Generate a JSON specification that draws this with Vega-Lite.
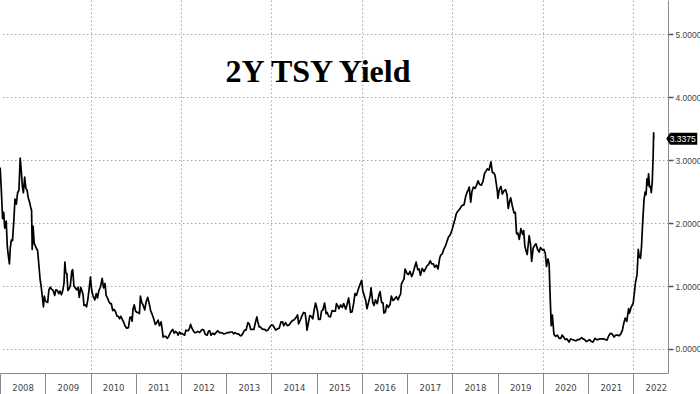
{
"$schema": "https://vega.github.io/schema/vega-lite/v6.json",
"width": 668, "height": 373,
"autosize": "none",
"padding": {"left": 0, "top": 0, "right": 32, "bottom": 21},
"background": "white",
"config": {"view": {"stroke": null}},
"datasets": {
"yld": [
{"d":"2008-01-02","v":2.88},{"d":"2008-01-11","v":2.55},{"d":"2008-01-22","v":2.07},{"d":"2008-01-31","v":2.17},{"d":"2008-02-08","v":1.92},{"d":"2008-02-20","v":2.03},{"d":"2008-02-29","v":1.63},{"d":"2008-03-07","v":1.5},{"d":"2008-03-17","v":1.35},{"d":"2008-03-24","v":1.6},{"d":"2008-04-01","v":1.73},{"d":"2008-04-11","v":1.72},{"d":"2008-04-22","v":2.05},{"d":"2008-05-01","v":2.38},{"d":"2008-05-12","v":2.3},{"d":"2008-05-22","v":2.48},{"d":"2008-06-02","v":2.52},{"d":"2008-06-12","v":3.03},{"d":"2008-06-20","v":2.85},{"d":"2008-06-30","v":2.57},{"d":"2008-07-08","v":2.48},{"d":"2008-07-18","v":2.73},{"d":"2008-07-28","v":2.55},{"d":"2008-08-07","v":2.52},{"d":"2008-08-15","v":2.41},{"d":"2008-08-27","v":2.33},{"d":"2008-09-05","v":2.25},{"d":"2008-09-12","v":2.2},{"d":"2008-09-17","v":1.58},{"d":"2008-09-24","v":1.95},{"d":"2008-10-03","v":1.67},{"d":"2008-10-10","v":1.65},{"d":"2008-10-20","v":1.6},{"d":"2008-10-31","v":1.56},{"d":"2008-11-10","v":1.33},{"d":"2008-11-20","v":1.1},{"d":"2008-11-28","v":1.0},{"d":"2008-12-05","v":0.88},{"d":"2008-12-17","v":0.67},{"d":"2008-12-24","v":0.84},{"d":"2008-12-31","v":0.77},
{"d":"2009-01-09","v":0.75},{"d":"2009-01-20","v":0.74},{"d":"2009-01-30","v":0.94},{"d":"2009-02-10","v":0.98},{"d":"2009-02-20","v":0.95},{"d":"2009-03-05","v":0.93},{"d":"2009-03-18","v":0.85},{"d":"2009-03-27","v":0.94},{"d":"2009-04-08","v":0.93},{"d":"2009-04-20","v":0.88},{"d":"2009-04-30","v":0.92},{"d":"2009-05-11","v":0.86},{"d":"2009-05-21","v":0.92},{"d":"2009-06-01","v":1.05},{"d":"2009-06-08","v":1.38},{"d":"2009-06-15","v":1.21},{"d":"2009-06-24","v":1.2},{"d":"2009-07-02","v":0.93},{"d":"2009-07-13","v":0.96},{"d":"2009-07-22","v":1.01},{"d":"2009-08-03","v":1.24},{"d":"2009-08-10","v":1.26},{"d":"2009-08-20","v":1.0},{"d":"2009-08-31","v":0.97},{"d":"2009-09-11","v":0.94},{"d":"2009-09-23","v":0.98},{"d":"2009-10-02","v":0.82},{"d":"2009-10-14","v":0.98},{"d":"2009-10-23","v":0.93},{"d":"2009-11-02","v":0.86},{"d":"2009-11-09","v":0.69},{"d":"2009-11-20","v":0.7},{"d":"2009-11-30","v":0.67},{"d":"2009-12-10","v":0.78},{"d":"2009-12-20","v":0.94},{"d":"2009-12-31","v":1.14},
{"d":"2010-01-11","v":0.92},{"d":"2010-01-22","v":0.84},{"d":"2010-02-05","v":0.78},{"d":"2010-02-16","v":0.88},{"d":"2010-02-26","v":0.81},{"d":"2010-03-10","v":0.93},{"d":"2010-03-22","v":0.98},{"d":"2010-04-05","v":1.12},{"d":"2010-04-16","v":0.97},{"d":"2010-04-28","v":1.04},{"d":"2010-05-07","v":0.85},{"d":"2010-05-20","v":0.8},{"d":"2010-05-28","v":0.76},{"d":"2010-06-08","v":0.72},{"d":"2010-06-18","v":0.72},{"d":"2010-06-29","v":0.61},{"d":"2010-07-09","v":0.63},{"d":"2010-07-22","v":0.59},{"d":"2010-08-03","v":0.52},{"d":"2010-08-13","v":0.52},{"d":"2010-08-25","v":0.48},{"d":"2010-09-03","v":0.52},{"d":"2010-09-15","v":0.47},{"d":"2010-09-27","v":0.42},{"d":"2010-10-06","v":0.37},{"d":"2010-10-20","v":0.33},{"d":"2010-11-03","v":0.34},{"d":"2010-11-15","v":0.5},{"d":"2010-11-24","v":0.51},{"d":"2010-12-03","v":0.44},{"d":"2010-12-10","v":0.63},{"d":"2010-12-20","v":0.7},{"d":"2010-12-31","v":0.6},
{"d":"2011-01-10","v":0.58},{"d":"2011-01-20","v":0.58},{"d":"2011-01-31","v":0.56},{"d":"2011-02-08","v":0.84},{"d":"2011-02-18","v":0.74},{"d":"2011-03-01","v":0.7},{"d":"2011-03-15","v":0.62},{"d":"2011-03-25","v":0.74},{"d":"2011-04-08","v":0.82},{"d":"2011-04-20","v":0.72},{"d":"2011-05-02","v":0.6},{"d":"2011-05-12","v":0.56},{"d":"2011-05-26","v":0.48},{"d":"2011-06-08","v":0.39},{"d":"2011-06-20","v":0.42},{"d":"2011-06-30","v":0.46},{"d":"2011-07-12","v":0.37},{"d":"2011-07-25","v":0.43},{"d":"2011-08-04","v":0.29},{"d":"2011-08-10","v":0.19},{"d":"2011-08-19","v":0.2},{"d":"2011-08-31","v":0.2},{"d":"2011-09-12","v":0.17},{"d":"2011-09-22","v":0.19},{"d":"2011-10-03","v":0.24},{"d":"2011-10-14","v":0.28},{"d":"2011-10-27","v":0.31},{"d":"2011-11-08","v":0.25},{"d":"2011-11-18","v":0.28},{"d":"2011-11-30","v":0.26},{"d":"2011-12-09","v":0.22},{"d":"2011-12-20","v":0.27},{"d":"2011-12-30","v":0.24},
{"d":"2012-01-10","v":0.25},{"d":"2012-01-20","v":0.23},{"d":"2012-01-31","v":0.22},{"d":"2012-02-10","v":0.3},{"d":"2012-02-21","v":0.29},{"d":"2012-03-01","v":0.29},{"d":"2012-03-12","v":0.34},{"d":"2012-03-19","v":0.39},{"d":"2012-03-30","v":0.33},{"d":"2012-04-10","v":0.29},{"d":"2012-04-20","v":0.26},{"d":"2012-05-01","v":0.26},{"d":"2012-05-15","v":0.28},{"d":"2012-05-31","v":0.26},{"d":"2012-06-11","v":0.29},{"d":"2012-06-22","v":0.31},{"d":"2012-07-03","v":0.3},{"d":"2012-07-16","v":0.23},{"d":"2012-07-31","v":0.22},{"d":"2012-08-10","v":0.28},{"d":"2012-08-20","v":0.29},{"d":"2012-08-31","v":0.22},{"d":"2012-09-14","v":0.25},{"d":"2012-09-28","v":0.23},{"d":"2012-10-10","v":0.26},{"d":"2012-10-24","v":0.29},{"d":"2012-11-07","v":0.26},{"d":"2012-11-20","v":0.26},{"d":"2012-12-03","v":0.25},{"d":"2012-12-14","v":0.24},{"d":"2012-12-31","v":0.25},
{"d":"2013-01-10","v":0.26},{"d":"2013-01-24","v":0.26},{"d":"2013-02-05","v":0.27},{"d":"2013-02-19","v":0.27},{"d":"2013-03-01","v":0.24},{"d":"2013-03-13","v":0.26},{"d":"2013-03-27","v":0.24},{"d":"2013-04-10","v":0.24},{"d":"2013-04-24","v":0.21},{"d":"2013-05-03","v":0.21},{"d":"2013-05-15","v":0.25},{"d":"2013-05-29","v":0.3},{"d":"2013-06-10","v":0.3},{"d":"2013-06-25","v":0.42},{"d":"2013-07-05","v":0.4},{"d":"2013-07-18","v":0.31},{"d":"2013-07-31","v":0.31},{"d":"2013-08-12","v":0.31},{"d":"2013-08-22","v":0.4},{"d":"2013-09-05","v":0.51},{"d":"2013-09-13","v":0.43},{"d":"2013-09-24","v":0.35},{"d":"2013-10-04","v":0.35},{"d":"2013-10-17","v":0.32},{"d":"2013-10-31","v":0.31},{"d":"2013-11-08","v":0.31},{"d":"2013-11-20","v":0.29},{"d":"2013-12-03","v":0.3},{"d":"2013-12-16","v":0.34},{"d":"2013-12-31","v":0.38},
{"d":"2014-01-10","v":0.38},{"d":"2014-01-24","v":0.34},{"d":"2014-02-04","v":0.3},{"d":"2014-02-18","v":0.32},{"d":"2014-03-04","v":0.33},{"d":"2014-03-19","v":0.43},{"d":"2014-03-31","v":0.43},{"d":"2014-04-11","v":0.37},{"d":"2014-04-25","v":0.42},{"d":"2014-05-09","v":0.37},{"d":"2014-05-23","v":0.38},{"d":"2014-06-06","v":0.42},{"d":"2014-06-18","v":0.45},{"d":"2014-07-01","v":0.46},{"d":"2014-07-15","v":0.49},{"d":"2014-07-31","v":0.54},{"d":"2014-08-08","v":0.4},{"d":"2014-08-22","v":0.46},{"d":"2014-09-05","v":0.53},{"d":"2014-09-18","v":0.58},{"d":"2014-09-30","v":0.57},{"d":"2014-10-08","v":0.45},{"d":"2014-10-15","v":0.3},{"d":"2014-10-24","v":0.39},{"d":"2014-11-06","v":0.53},{"d":"2014-11-18","v":0.52},{"d":"2014-12-01","v":0.48},{"d":"2014-12-10","v":0.6},{"d":"2014-12-23","v":0.73},{"d":"2014-12-31","v":0.67},
{"d":"2015-01-09","v":0.59},{"d":"2015-01-16","v":0.47},{"d":"2015-01-30","v":0.47},{"d":"2015-02-09","v":0.6},{"d":"2015-02-20","v":0.62},{"d":"2015-03-06","v":0.73},{"d":"2015-03-18","v":0.56},{"d":"2015-03-27","v":0.58},{"d":"2015-04-08","v":0.52},{"d":"2015-04-22","v":0.51},{"d":"2015-05-06","v":0.61},{"d":"2015-05-20","v":0.6},{"d":"2015-06-01","v":0.6},{"d":"2015-06-10","v":0.72},{"d":"2015-06-22","v":0.68},{"d":"2015-06-30","v":0.64},{"d":"2015-07-14","v":0.7},{"d":"2015-07-27","v":0.66},{"d":"2015-08-07","v":0.72},{"d":"2015-08-24","v":0.63},{"d":"2015-09-04","v":0.71},{"d":"2015-09-16","v":0.81},{"d":"2015-09-24","v":0.7},{"d":"2015-10-02","v":0.58},{"d":"2015-10-14","v":0.59},{"d":"2015-10-28","v":0.74},{"d":"2015-11-06","v":0.88},{"d":"2015-11-18","v":0.85},{"d":"2015-12-02","v":0.94},{"d":"2015-12-16","v":1.02},{"d":"2015-12-30","v":1.09},
{"d":"2016-01-08","v":0.93},{"d":"2016-01-20","v":0.85},{"d":"2016-02-01","v":0.77},{"d":"2016-02-11","v":0.64},{"d":"2016-02-24","v":0.74},{"d":"2016-03-08","v":0.85},{"d":"2016-03-15","v":0.97},{"d":"2016-03-29","v":0.74},{"d":"2016-04-08","v":0.69},{"d":"2016-04-20","v":0.78},{"d":"2016-05-04","v":0.72},{"d":"2016-05-18","v":0.86},{"d":"2016-05-27","v":0.91},{"d":"2016-06-08","v":0.74},{"d":"2016-06-20","v":0.73},{"d":"2016-06-27","v":0.57},{"d":"2016-07-08","v":0.58},{"d":"2016-07-20","v":0.7},{"d":"2016-08-02","v":0.66},{"d":"2016-08-16","v":0.71},{"d":"2016-08-26","v":0.84},{"d":"2016-09-08","v":0.77},{"d":"2016-09-20","v":0.79},{"d":"2016-10-05","v":0.83},{"d":"2016-10-19","v":0.78},{"d":"2016-10-31","v":0.84},{"d":"2016-11-09","v":0.87},{"d":"2016-11-15","v":1.03},{"d":"2016-11-28","v":1.08},{"d":"2016-12-06","v":1.11},{"d":"2016-12-15","v":1.27},{"d":"2016-12-30","v":1.2},
{"d":"2017-01-10","v":1.18},{"d":"2017-01-24","v":1.23},{"d":"2017-02-06","v":1.15},{"d":"2017-02-17","v":1.2},{"d":"2017-03-01","v":1.29},{"d":"2017-03-14","v":1.38},{"d":"2017-03-27","v":1.26},{"d":"2017-04-07","v":1.27},{"d":"2017-04-18","v":1.17},{"d":"2017-05-02","v":1.28},{"d":"2017-05-17","v":1.23},{"d":"2017-05-31","v":1.28},{"d":"2017-06-09","v":1.32},{"d":"2017-06-22","v":1.34},{"d":"2017-07-06","v":1.4},{"d":"2017-07-18","v":1.35},{"d":"2017-07-31","v":1.35},{"d":"2017-08-11","v":1.3},{"d":"2017-08-24","v":1.33},{"d":"2017-09-07","v":1.27},{"d":"2017-09-20","v":1.44},{"d":"2017-09-29","v":1.49},{"d":"2017-10-11","v":1.51},{"d":"2017-10-25","v":1.59},{"d":"2017-11-07","v":1.64},{"d":"2017-11-20","v":1.72},{"d":"2017-12-01","v":1.78},{"d":"2017-12-14","v":1.81},{"d":"2017-12-29","v":1.89},
{"d":"2018-01-09","v":1.97},{"d":"2018-01-22","v":2.06},{"d":"2018-02-02","v":2.15},{"d":"2018-02-15","v":2.19},{"d":"2018-03-01","v":2.22},{"d":"2018-03-13","v":2.26},{"d":"2018-03-23","v":2.28},{"d":"2018-04-05","v":2.29},{"d":"2018-04-18","v":2.42},{"d":"2018-04-30","v":2.49},{"d":"2018-05-10","v":2.53},{"d":"2018-05-17","v":2.57},{"d":"2018-05-29","v":2.33},{"d":"2018-06-08","v":2.5},{"d":"2018-06-20","v":2.57},{"d":"2018-07-03","v":2.55},{"d":"2018-07-16","v":2.6},{"d":"2018-07-27","v":2.67},{"d":"2018-08-10","v":2.61},{"d":"2018-08-23","v":2.6},{"d":"2018-09-05","v":2.66},{"d":"2018-09-18","v":2.79},{"d":"2018-09-28","v":2.82},{"d":"2018-10-10","v":2.86},{"d":"2018-10-24","v":2.84},{"d":"2018-11-08","v":2.97},{"d":"2018-11-20","v":2.8},{"d":"2018-11-30","v":2.8},{"d":"2018-12-11","v":2.76},{"d":"2018-12-21","v":2.63},{"d":"2018-12-31","v":2.49},
{"d":"2019-01-03","v":2.39},{"d":"2019-01-15","v":2.53},{"d":"2019-01-28","v":2.58},{"d":"2019-02-08","v":2.46},{"d":"2019-02-21","v":2.51},{"d":"2019-03-06","v":2.53},{"d":"2019-03-18","v":2.45},{"d":"2019-03-28","v":2.23},{"d":"2019-04-09","v":2.35},{"d":"2019-04-17","v":2.4},{"d":"2019-04-30","v":2.27},{"d":"2019-05-14","v":2.16},{"d":"2019-05-24","v":2.17},{"d":"2019-06-03","v":1.83},{"d":"2019-06-14","v":1.84},{"d":"2019-06-25","v":1.74},{"d":"2019-07-08","v":1.91},{"d":"2019-07-22","v":1.82},{"d":"2019-07-31","v":1.88},{"d":"2019-08-09","v":1.63},{"d":"2019-08-20","v":1.55},{"d":"2019-08-28","v":1.5},{"d":"2019-09-13","v":1.8},{"d":"2019-09-24","v":1.66},{"d":"2019-10-03","v":1.39},{"d":"2019-10-15","v":1.6},{"d":"2019-10-28","v":1.65},{"d":"2019-11-07","v":1.67},{"d":"2019-11-20","v":1.58},{"d":"2019-12-03","v":1.54},{"d":"2019-12-13","v":1.61},{"d":"2019-12-31","v":1.57},
{"d":"2020-01-10","v":1.58},{"d":"2020-01-21","v":1.52},{"d":"2020-01-31","v":1.31},{"d":"2020-02-12","v":1.43},{"d":"2020-02-21","v":1.35},{"d":"2020-02-28","v":0.91},{"d":"2020-03-09","v":0.37},{"d":"2020-03-18","v":0.54},{"d":"2020-03-31","v":0.23},{"d":"2020-04-14","v":0.2},{"d":"2020-04-28","v":0.22},{"d":"2020-05-12","v":0.17},{"d":"2020-05-26","v":0.17},{"d":"2020-06-05","v":0.22},{"d":"2020-06-17","v":0.19},{"d":"2020-06-30","v":0.15},{"d":"2020-07-14","v":0.16},{"d":"2020-07-31","v":0.11},{"d":"2020-08-13","v":0.16},{"d":"2020-08-26","v":0.15},{"d":"2020-09-09","v":0.14},{"d":"2020-09-24","v":0.13},{"d":"2020-10-07","v":0.15},{"d":"2020-10-21","v":0.15},{"d":"2020-11-09","v":0.18},{"d":"2020-11-20","v":0.16},{"d":"2020-12-04","v":0.15},{"d":"2020-12-16","v":0.12},{"d":"2020-12-31","v":0.13},
{"d":"2021-01-12","v":0.15},{"d":"2021-01-26","v":0.12},{"d":"2021-02-09","v":0.11},{"d":"2021-02-25","v":0.17},{"d":"2021-03-10","v":0.15},{"d":"2021-03-22","v":0.15},{"d":"2021-04-06","v":0.16},{"d":"2021-04-20","v":0.16},{"d":"2021-05-04","v":0.16},{"d":"2021-05-18","v":0.15},{"d":"2021-06-02","v":0.14},{"d":"2021-06-17","v":0.21},{"d":"2021-06-30","v":0.25},{"d":"2021-07-13","v":0.24},{"d":"2021-07-29","v":0.19},{"d":"2021-08-12","v":0.22},{"d":"2021-08-26","v":0.22},{"d":"2021-09-09","v":0.21},{"d":"2021-09-22","v":0.24},{"d":"2021-10-05","v":0.3},{"d":"2021-10-15","v":0.4},{"d":"2021-10-27","v":0.49},{"d":"2021-11-09","v":0.44},{"d":"2021-11-24","v":0.64},{"d":"2021-12-01","v":0.57},{"d":"2021-12-14","v":0.66},{"d":"2021-12-31","v":0.73},
{"d":"2022-01-10","v":0.9},{"d":"2022-01-18","v":1.05},{"d":"2022-01-31","v":1.18},{"d":"2022-02-10","v":1.58},{"d":"2022-02-17","v":1.47},{"d":"2022-02-28","v":1.44},{"d":"2022-03-08","v":1.62},{"d":"2022-03-16","v":1.95},{"d":"2022-03-28","v":2.36},{"d":"2022-04-06","v":2.49},{"d":"2022-04-14","v":2.45},{"d":"2022-04-21","v":2.7},{"d":"2022-04-28","v":2.6},{"d":"2022-05-04","v":2.78},{"d":"2022-05-12","v":2.57},{"d":"2022-05-20","v":2.58},{"d":"2022-05-26","v":2.48},{"d":"2022-06-03","v":2.66},{"d":"2022-06-10","v":3.06},{"d":"2022-06-14","v":3.43},{"d":"2022-06-15","v":3.3375}
],
"last": [{"d":"2022-06-15","v":3.3375}]
},
"layer": [
{
"data": {"name": "yld"},
"mark": {"type": "line", "color": "black", "strokeWidth": 1.7, "strokeJoin": "round", "clip": true},
"encoding": {
"x": {"field": "d", "type": "temporal",
"scale": {"domain": [{"year": 2008, "month": 1, "date": 1}, {"year": 2022, "month": 10, "date": 8}]},
"axis": {"title": null,
"values": [{"year":2008,"month":1,"date":1},{"year":2009,"month":1,"date":1},{"year":2010,"month":1,"date":1},{"year":2011,"month":1,"date":1},{"year":2012,"month":1,"date":1},{"year":2013,"month":1,"date":1},{"year":2014,"month":1,"date":1},{"year":2015,"month":1,"date":1},{"year":2016,"month":1,"date":1},{"year":2017,"month":1,"date":1},{"year":2018,"month":1,"date":1},{"year":2019,"month":1,"date":1},{"year":2020,"month":1,"date":1},{"year":2021,"month":1,"date":1},{"year":2022,"month":1,"date":1}],
"format": "%Y", "labelOffset": 22.6, "labelPadding": -11, "tickSize": 21,
"tickColor": "#8a8a8a", "domainColor": "#8a8a8a", "labelColor": "#444",
"labelFont": "DejaVu Sans", "labelFontSize": 8.5, "labelFlush": false, "labelOverlap": false,
"grid": true, "gridDash": [1.5, 2.5], "gridColor": "#a8a8a8",
"gridOpacity": {"condition": {"test": "year(datum.value) % 2 == 0 && year(datum.value) > 2008", "value": 1}, "value": 0}}},
"y": {"field": "v", "type": "quantitative",
"scale": {"domain": [-0.381, 5.54], "nice": false, "zero": false},
"axis": {"orient": "right", "title": null,
"values": [0, 0.5, 1, 1.5, 2, 2.5, 3, 3.5, 4, 4.5, 5, 5.5],
"labelExpr": "datum.value % 1 == 0 ? format(datum.value, '.4f') : ''",
"tickSize": {"condition": {"test": "datum.value % 1 == 0", "value": 5}, "value": 3},
"tickColor": "#555", "tickWidth": 1.5, "domainColor": "#8a8a8a",
"labelPadding": 2, "labelFont": "Liberation Sans", "labelFontSize": 8.5, "labelColor": "#444", "labelBaseline": "middle",
"grid": true, "gridDash": [1.5, 2.5], "gridColor": "#a8a8a8",
"gridOpacity": {"condition": {"test": "datum.value % 1 == 0", "value": 1}, "value": 0}}}
}
},
{
"data": {"name": "last"},
"mark": {"type": "point", "shape": "M-1,0L-0.75,-0.39L1,-0.39L1,0.39L-0.75,0.39Z", "size": 961, "filled": true, "color": "black", "opacity": 1, "xOffset": 28, "clip": false},
"encoding": {"x": {"field": "d", "type": "temporal"}, "y": {"field": "v", "type": "quantitative"}}
},
{
"data": {"name": "last"},
"mark": {"type": "text", "color": "white", "dx": 29, "align": "center", "baseline": "middle", "font": "Liberation Sans", "fontSize": 8.5, "clip": false},
"encoding": {"x": {"field": "d", "type": "temporal"}, "y": {"field": "v", "type": "quantitative"}, "text": {"field": "v", "type": "quantitative", "format": ".4f"}}
},
{
"data": {"values": [{}]},
"mark": {"type": "text", "text": "2Y TSY Yield", "font": "Liberation Serif", "fontWeight": "bold", "fontSize": 32, "align": "center", "baseline": "alphabetic", "color": "#000"},
"encoding": {"x": {"datum": {"year": 2015, "month": 1, "date": 12}, "type": "temporal"}, "y": {"datum": 4.24, "type": "quantitative"}}
}
]
}
